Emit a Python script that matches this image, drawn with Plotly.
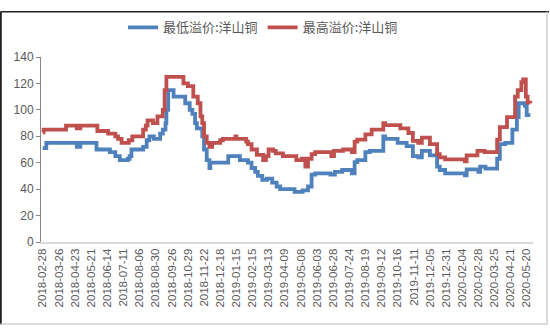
import plotly.graph_objects as go

# x-axis tick labels (every 18th trading day)
tick_labels = [
    "2018-02-28", "2018-03-26", "2018-04-23", "2018-05-21", "2018-06-14", "2018-07-11",
    "2018-08-06", "2018-08-30", "2018-09-26", "2018-10-29", "2018-11-22", "2018-12-18",
    "2019-01-15", "2019-02-15", "2019-03-13", "2019-04-09", "2019-05-08", "2019-06-03",
    "2019-06-28", "2019-07-24", "2019-08-19", "2019-09-12", "2019-10-16", "2019-11-11",
    "2019-12-05", "2019-12-31", "2020-02-04", "2020-02-28", "2020-03-25", "2020-04-21",
    "2020-05-20",
]
tick_step = 18

# 最低溢价 (trading-day index where value changes, value)
low_idx = [0, 4, 38, 42, 60, 75, 81, 86, 95, 97, 99, 112, 116, 119, 124, 131, 134, 137,
           138, 140, 146, 159, 164, 167, 170, 172, 178, 180, 183, 186, 187, 207, 220, 229,
           233, 237, 240, 245, 250, 256, 261, 265, 281, 290, 296, 300, 304, 321, 326, 334,
           345, 348, 351, 360, 365, 380, 382, 396, 406, 413, 419, 423, 432, 440, 443, 449,
           471, 473, 486, 488, 494, 507, 510, 516, 524, 529, 531, 538, 540, 544]
low_val = [71, 75, 72, 75, 70, 68, 65, 62, 63, 65, 70, 72, 77, 80, 78, 82, 85, 90,
           100, 115, 110, 105, 100, 97, 90, 86, 80, 70, 62, 56, 60, 65, 62, 60,
           56, 53, 50, 47, 48, 45, 42, 40, 38, 39, 42, 51, 52, 51, 53, 54.5,
           52, 60.5, 62, 68, 69, 80, 78, 75, 72.5, 65, 64, 69, 65.5, 57, 54.5, 52,
           50.5, 55, 53, 57, 55.5, 63, 74, 75, 85, 94.5, 105, 103, 96, 96]

# 最高溢价
high_idx = [0, 1, 26, 38, 42, 61, 73, 81, 84, 88, 96, 100, 112, 115, 117, 123, 128, 134,
            136, 138, 157, 162, 168, 173, 176, 178, 180, 183, 186, 189, 198, 201, 215, 216,
            227, 229, 233, 239, 246, 249, 252, 257, 260, 268, 283, 289, 293, 296, 300, 304,
            322, 325, 335, 345, 348, 351, 360, 367, 380, 382, 399, 408, 413, 419, 423, 432,
            440, 443, 449, 471, 473, 485, 493, 507, 510, 518, 527, 530, 534, 536, 539, 541, 544]
high_val = [83, 85, 88, 86, 88, 84, 82, 80, 78, 75, 77, 80, 85, 88, 92, 90, 95, 100,
            115, 125, 120, 118, 110, 105, 95, 90, 80, 75, 72, 75, 77, 78, 80, 78,
            76, 74, 70, 66, 62, 65, 70, 69, 67, 65, 62, 63, 57, 63, 66.5, 68,
            65, 69, 70, 68, 76, 77.5, 81.5, 85, 90, 88.5, 86, 82.5, 76.5, 75, 79, 74,
            66.5, 64, 62.5, 61, 65.5, 69, 68, 77.5, 87, 94.5, 110, 115, 121, 123, 110, 105.5, 105]

BLUE = "#4F81BD"
RED = "#C0504D"
TXT = "#595959"

fig = go.Figure()
fig.add_trace(go.Scatter(x=low_idx, y=low_val, mode="lines", name="最低溢价:洋山铜",
                         line=dict(color=BLUE, width=3.8, shape="hv")))
fig.add_trace(go.Scatter(x=high_idx, y=high_val, mode="lines", name="最高溢价:洋山铜",
                         line=dict(color=RED, width=3.8, shape="hv")))

L, R, T, B = 41, 17, 48, 88.3
W, H = 550, 330
pw, ph = W - L - R, H - T - B

def px(p):
    return (p - L) / pw

def py(p):
    return (H - B - p) / ph

fig.update_layout(
    width=W, height=H,
    margin=dict(l=L, r=R, t=T, b=B),
    paper_bgcolor="white", plot_bgcolor="white",
    showlegend=True,
    legend=dict(orientation="h", x=px(123), xanchor="left", y=py(17), yanchor="middle",
                font=dict(family="Noto Sans CJK SC", size=13, color=TXT),
                bgcolor="rgba(0,0,0,0)", itemwidth=30, tracegroupgap=0),
    font=dict(family="Liberation Sans, Arial", color=TXT),
    xaxis=dict(range=[-1.9, 547], tickmode="array",
               tickvals=[i * tick_step for i in range(len(tick_labels))],
               ticktext=tick_labels, tickangle=-90,
               tickfont=dict(size=11.5, color=TXT, family="Liberation Sans, Arial"),
               showgrid=False, zeroline=False, showline=True, linecolor="#D9D9D9",
               linewidth=2, ticks="", ticklen=0),
    yaxis=dict(range=[0, 140], tickmode="array", tickvals=list(range(0, 141, 20)),
               tickfont=dict(size=12, color=TXT, family="Liberation Sans, Arial"),
               showgrid=False, zeroline=False, showline=True, linecolor="#868686",
               linewidth=1, ticks="outside", ticklen=4, tickcolor="#868686"),
    shapes=[
        dict(type="line", xref="paper", yref="paper", x0=px(0.5), x1=px(549), y0=py(0.5), y1=py(0.5),
             line=dict(color="#222222", width=1.5)),
        dict(type="line", xref="paper", yref="paper", x0=px(0.8), x1=px(0.8), y0=py(0.5), y1=py(328),
             line=dict(color="#222222", width=2)),
        dict(type="line", xref="paper", yref="paper", x0=px(547), x1=px(547), y0=py(0.5), y1=py(328),
             line=dict(color="#CFCFCF", width=1.5)),
        dict(type="line", xref="paper", yref="paper", x0=px(0.5), x1=px(547), y0=py(327.5), y1=py(327.5),
             line=dict(color="#CFCFCF", width=1.5)),
    ],
)

fig.write_html("out.html")
